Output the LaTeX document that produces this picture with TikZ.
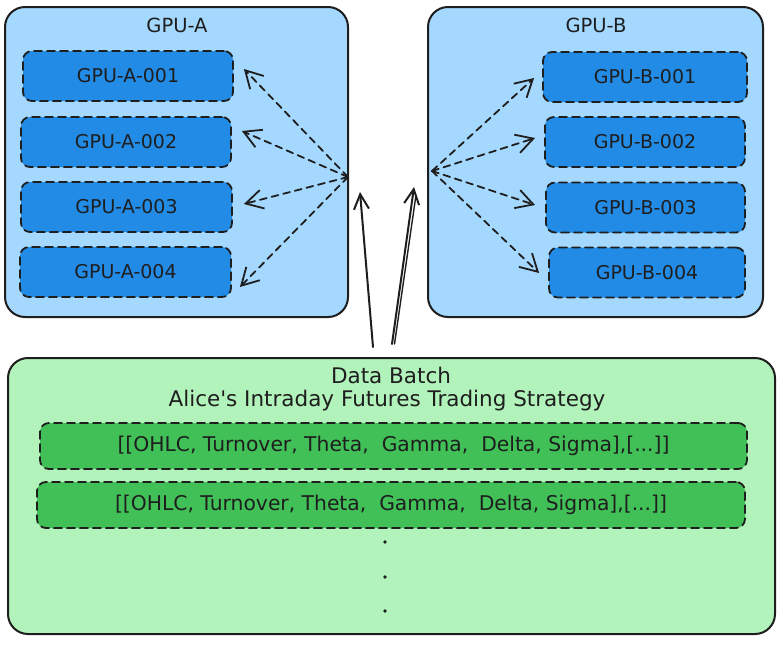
\documentclass[tikz,border=0pt]{standalone}
\usepackage{fontspec}
\setmainfont{DejaVu Sans}[Ligatures=TeXOff]
\usetikzlibrary{arrows.meta}
\definecolor{ink}{HTML}{1E1E1E}
\definecolor{lblue}{HTML}{A5D8FF}
\definecolor{dblue}{HTML}{228BE6}
\definecolor{lgreen}{HTML}{B2F2BB}
\definecolor{dgreen}{HTML}{40C057}
\tikzset{
  outerbox/.style={draw=ink, line width=2pt, rounded corners=20pt},
  gpubox/.style={draw=ink, fill=dblue, line width=1.8pt, dash pattern=on 8pt off 5pt, rounded corners=9pt, minimum height=50pt, font=\fontsize{19}{21}\selectfont, text=ink, inner sep=0pt},
  rowbox/.style={draw=ink, fill=dgreen, line width=1.8pt, dash pattern=on 8pt off 5pt, rounded corners=9pt, minimum height=46pt, font=\fontsize{20.3}{22}\selectfont, text=ink, inner sep=0pt},
  titletext/.style={font=\fontsize{19.5}{21}\selectfont, text=ink, inner sep=0pt},
  bigtext/.style={font=\fontsize{21.5}{23}\selectfont, text=ink, inner sep=0pt},
  dasharrow/.style={draw=ink, line width=1.8pt, dash pattern=on 7pt off 5pt, -{Straight Barb[length=17pt, width=19pt, line width=1.8pt]}},
  solidarrow/.style={draw=ink, line width=2pt, -{Straight Barb[length=15pt, width=15pt, line width=2pt]}},
}
\begin{document}
\begin{tikzpicture}[x=1pt, y=-1pt, line join=round, line cap=round]
\useasboundingbox (0,0) rectangle (778,646);
% outer boxes
\draw[outerbox, fill=lblue] (5,7) rectangle (348,317);
\draw[outerbox, fill=lblue] (428,7) rectangle (763,317);
\draw[outerbox, fill=lgreen] (8,358) rectangle (775,634);
% titles
\node[titletext] (ta) at (177,25) {GPU-A};
\node[titletext] (tb) at (596,25) {GPU-B};
\node[bigtext] (td) at (391,375) {Data Batch};
\node[bigtext] (ts) at (387,401) {Alice's Intraday Futures Trading Strategy};
% GPU-A children
\node[gpubox, minimum width=210pt] (a1) at (128,76) {GPU-A-001};
\node[gpubox, minimum width=210pt] (a2) at (126,142) {GPU-A-002};
\node[gpubox, minimum width=211pt] (a3) at (126.5,207) {GPU-A-003};
\node[gpubox, minimum width=211pt] (a4) at (125.5,272) {GPU-A-004};
% GPU-B children
\node[gpubox, minimum width=204pt] (b1) at (645,77) {GPU-B-001};
\node[gpubox, minimum width=200pt] (b2) at (645,142) {GPU-B-002};
\node[gpubox, minimum width=199pt] (b3) at (645.5,207.5) {GPU-B-003};
\node[gpubox, minimum width=196pt] (b4) at (647,272.5) {GPU-B-004};
% data rows
\node[rowbox, minimum width=707pt] (r1) at (393.5,446) {[[OHLC, Turnover, Theta,\ \ Gamma,\ \ Delta, Sigma],[...]]};
\node[rowbox, minimum width=708pt] (r2) at (391,505) {[[OHLC, Turnover, Theta,\ \ Gamma,\ \ Delta, Sigma],[...]]};
% dots
\fill[ink] (385,542) circle (1.9pt);
\fill[ink] (385,577) circle (1.9pt);
\fill[ink] (385,611) circle (1.9pt);
% hubs
\coordinate (hubA) at (348,177);
\coordinate (hubB) at (432,171);
\coordinate (srcA) at (373,347);
\coordinate (dstA) at (360,192);
\coordinate (srcB) at (392,344);
\coordinate (dstB) at (414,187);
% dashed arrows
\draw[dasharrow] (hubA) -- ([shift={(10,-7)}]a1.east);
\draw[dasharrow] (hubA) -- ([shift={(10,-11)}]a2.east);
\draw[dasharrow] (hubA) -- ([shift={(11,-3)}]a3.east);
\draw[dasharrow] (hubA) -- ([shift={(8,15)}]a4.east);
\draw[dasharrow] (hubB) -- ([shift={(-8,1)}]b1.west);
\draw[dasharrow] (hubB) -- ([shift={(-9,-4)}]b2.west);
\draw[dasharrow] (hubB) -- ([shift={(-10,-2.5)}]b3.west);
\draw[dasharrow] (hubB) -- ([shift={(-9,0.5)}]b4.west);
% solid arrows
\draw[solidarrow] (srcA) -- (dstA);
\draw[solidarrow] (srcB) -- (dstB);
\draw[ink, line width=1.4pt] ([xshift=2.5pt]srcB) -- ([xshift=2pt,yshift=-8pt]dstB);
\end{tikzpicture}
\end{document}
